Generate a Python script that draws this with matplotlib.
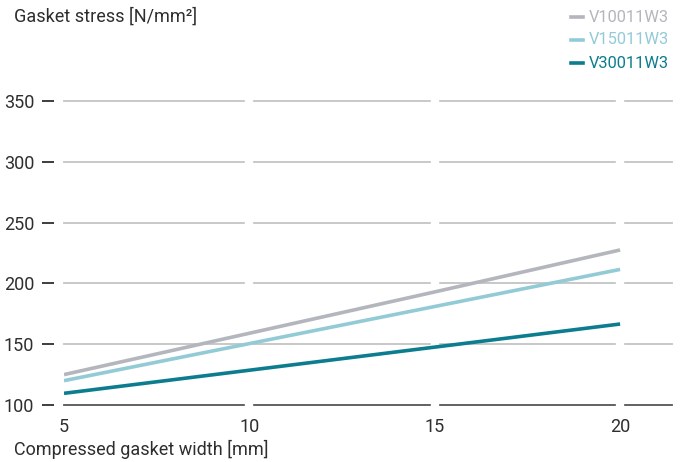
import numpy as np
import matplotlib.pyplot as plt

plt.rcParams['font.family'] = ['Roboto', 'DejaVu Sans']

# data
width = [5, 10, 15, 20]
v100 = [125, 159, 193, 227.5]
v150 = [120, 150.5, 181, 211.5]
v300 = [109.6, 128.6, 147.6, 166.6]
names = ['V10011W3', 'V15011W3', 'V30011W3']
colors = ['#b4b6bd', '#92cbd6', '#0b7d8e']
yticks = [100, 150, 200, 250, 300, 350]
xticks = [5, 10, 15, 20]

txt = '#2e2e2e'
fs = 13

fig = plt.figure(figsize=(6.8, 4.62), dpi=100)
ax = fig.add_axes([64/680, 1-405/462, (672-64)/680, (405-101)/462])
ax.set_xlim(5, 21.4)
ax.set_ylim(100, 350)

# horizontal grid, darker base line
for y in yticks:
    c = '#555555' if y == 100 else '#c4c4c4'
    ax.axhline(y, color=c, lw=1.3, zorder=1, clip_on=False)
# white breaks at x ticks
for x in xticks[1:]:
    ax.axvline(x, color='white', lw=6, zorder=2, clip_on=False)

for vals, col, nm in zip([v100, v150, v300], colors, names):
    ax.plot(width, vals, color=col, lw=2.6, zorder=3, label=nm, solid_capstyle='butt')

for s in ax.spines.values():
    s.set_visible(False)
ax.spines['left'].set_position(('outward', 7))

ax.set_yticks(yticks)
ax.set_xticks(xticks)
ax.tick_params(axis='y', length=9, width=1.3, color=txt, pad=5.5,
               labelsize=fs, labelcolor=txt)
ax.tick_params(axis='x', length=0, pad=9, labelsize=fs, labelcolor=txt)

fig.text(14/680, 1-17/462, 'Gasket stress [N/mm²]', fontsize=fs, color=txt,
         ha='left', va='center')
fig.text(14/680, 1-449/462, 'Compressed gasket width [mm]', fontsize=fs, color=txt,
         ha='left', va='center')

# legend, coloured text
for i, (nm, col) in enumerate(zip(names, colors)):
    yy = 1 - (17 + 23*i)/462
    fig.add_artist(plt.Line2D([571/680, 583/680], [yy, yy], color=col, lw=2.6,
                              transform=fig.transFigure))
    fig.text(589/680, yy, nm, fontsize=11.8, color=col, ha='left', va='center')

fig.savefig('out.png', dpi=100)
